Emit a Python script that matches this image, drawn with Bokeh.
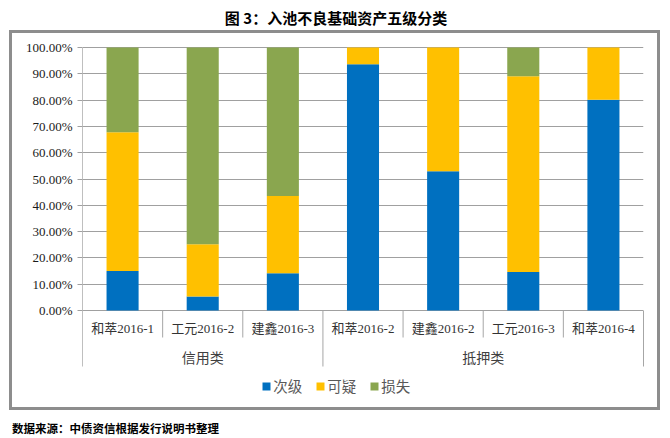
from bokeh.plotting import figure
from bokeh.layouts import column
from bokeh.models import (ColumnDataSource, FactorRange, Range1d, FixedTicker,
                          PrintfTickFormatter, LinearAxis, Legend, LegendItem, Label)
from bokeh.core.properties import value
from bokeh.embed import file_html
from bokeh.resources import INLINE

# ---------------- data ----------------
title_text = "图 3：入池不良基础资产五级分类"
source_text = "数据来源：中债资信根据发行说明书整理"
groups = ["信用类", "信用类", "信用类", "抵押类", "抵押类", "抵押类", "抵押类"]
categories = ["和萃2016-1", "工元2016-2", "建鑫2016-3", "和萃2016-2",
              "建鑫2016-2", "工元2016-3", "和萃2016-4"]
series_names = ["次级", "可疑", "损失"]
ciji = [15.0, 5.3, 14.2, 93.6, 52.9, 14.6, 80.1]
keyi = [52.8, 19.9, 29.3, 6.4, 47.1, 74.5, 19.9]
sunshi = [32.2, 74.8, 56.5, 0.0, 0.0, 10.9, 0.0]
y_ticks = [0, 10, 20, 30, 40, 50, 60, 70, 80, 90, 100]
colors = ["#0070C0", "#FFC000", "#8AA64F"]

# ---------------- layout constants (pixels) ----------------
W = 670
MAIN_H, NOTE_H = 410, 28
FRAME_LEFT, FRAME_RIGHT = 82, 643
ZERO_PX, FULL_PX = 310, 47          # pixel rows of 0% and 100%
UNIT = (ZERO_PX - FULL_PX) / 100.0  # px per percent
Y_TOP = 100 + FULL_PX / UNIT
Y_BOT = -(MAIN_H - ZERO_PX) / UNIT
SEP_BOT = -(366 - ZERO_PX) / UNIT
SHORT_SEP_Y = -(337 - ZERO_PX) / UNIT
CAT_LABEL_Y = -(327.5 - ZERO_PX) / UNIT
GROUP_LABEL_Y = -(356 - ZERO_PX) / UNIT
GRID_COLOR = "#a0a0a0"
SEP_COLOR = "#a6a6a6"
BOX_COLOR = "#8d8d8d"
CJK = "Noto Sans CJK SC"
SERIF = "'Liberation Serif', 'Noto Sans CJK SC'"

factors = list(zip(groups, categories))
x_range = FactorRange(factors=factors, factor_padding=0, group_padding=0,
                      subgroup_padding=0, range_padding=0)

g = "linear-gradient(%s,%s)" % (BOX_COLOR, BOX_COLOR)
box_css = ", ".join([
    g + " 9px 30px/651px 3px no-repeat",
    g + " 9px 407px/651px 3px no-repeat",
    g + " 9px 30px/3px 380px no-repeat",
    g + " 657px 30px/3px 380px no-repeat",
    "#ffffff",
])

p = figure(width=W, height=MAIN_H, x_range=x_range, y_range=Range1d(Y_BOT, Y_TOP),
           output_backend="svg", toolbar_location=None, x_axis_location=None,
           min_border_left=FRAME_LEFT, min_border_right=W - FRAME_RIGHT,
           min_border_top=0, min_border_bottom=0,
           styles={"background": box_css})
p.title.visible = False
p.outline_line_color = None
p.background_fill_color = None
p.border_fill_color = None

# bars
src = ColumnDataSource(data={"x": factors, "次级": ciji, "可疑": keyi, "损失": sunshi})
renderers = p.vbar_stack(series_names, x="x", width=0.4, fill_color=colors,
                         line_color=None, source=src)

# axes / grid
for gr in p.xgrid:
    gr.visible = False
yt = FixedTicker(ticks=y_ticks)
p.yaxis.ticker = yt
p.ygrid.ticker = yt
p.ygrid.grid_line_color = GRID_COLOR
p.yaxis.formatter = PrintfTickFormatter(format="%.2f%%")
p.yaxis.bounds = (SEP_BOT, 100)
p.yaxis.axis_line_color = "#bfbfbf"
p.yaxis.major_tick_line_color = "#a0a0a0"
p.yaxis.major_tick_out = 5
p.yaxis.major_tick_in = 0
p.yaxis.minor_tick_line_color = None
p.yaxis.major_label_standoff = 5
p.yaxis.major_label_text_font = "Liberation Serif"
p.yaxis.major_label_text_font_size = "13px"
p.yaxis.major_label_text_color = "#1a1a1a"

right_axis = LinearAxis(bounds=(SEP_BOT, 0), ticker=FixedTicker(ticks=[]),
                        axis_line_color=SEP_COLOR, major_tick_out=0,
                        major_label_text_font_size="0px")
p.add_layout(right_axis, "right")

# separators below the axis
sep_x, sep_y1 = [], []
for i in range(1, len(categories)):
    sep_x.append((groups[i], categories[i], -0.5))
    sep_y1.append(SEP_BOT if groups[i] != groups[i - 1] else SHORT_SEP_Y)
sep_src = ColumnDataSource(data={"x": sep_x, "y1": sep_y1})
p.segment(x0="x", y0=0, x1="x", y1="y1", source=sep_src,
          line_color=SEP_COLOR, line_width=1)

# category labels
cat_src = ColumnDataSource(data={"x": factors, "y": [CAT_LABEL_Y] * len(factors),
                                 "t": categories})
p.text(x="x", y="y", text="t", source=cat_src, text_align="center",
       text_baseline="middle", text_font=value(SERIF), text_font_size="13px",
       text_color="#333333")

uniq_groups = list(dict.fromkeys(groups))
grp_src = ColumnDataSource(data={"x": uniq_groups, "y": [GROUP_LABEL_Y] * len(uniq_groups),
                                 "t": uniq_groups})
p.text(x="x", y="y", text="t", source=grp_src, text_align="center",
       text_baseline="middle", text_font=value(CJK), text_font_size="14px",
       text_color="#404040")

# legend (inside the frame, under the category labels)
legend = Legend(items=[LegendItem(label=s, renderers=[r]) for s, r in zip(series_names, renderers)],
                orientation="horizontal", location=(261.3 - FRAME_LEFT, MAIN_H - 396),
                padding=0, margin=0, spacing=13, glyph_width=10, glyph_height=10,
                label_standoff=2, label_height=10,
                label_text_font=CJK, label_text_font_size="14.5px",
                label_text_color="#595959", border_line_color=None,
                background_fill_alpha=0)
p.add_layout(legend)

# chart title
p.add_layout(Label(x=335.5 - FRAME_LEFT, y=MAIN_H - 16.5, x_units="screen", y_units="screen",
                   text=title_text, text_align="center", text_baseline="middle",
                   text_font=CJK, text_font_style="bold", text_font_size="15px",
                   text_color="#000000"))

# source note figure (text held by its title panel, which is not clipped)
p2 = figure(width=W, height=NOTE_H, x_range=Range1d(0, 1), y_range=Range1d(0, 1),
            output_backend="svg", toolbar_location=None,
            x_axis_location=None, y_axis_location=None,
            min_border_left=FRAME_LEFT, min_border_right=W - FRAME_RIGHT,
            min_border_top=0, min_border_bottom=0,
            title=source_text, title_location="below")
p2.outline_line_color = None
p2.background_fill_color = None
p2.border_fill_color = None
p2.grid.visible = False
p2.title.align = "left"
p2.title.offset = 11.5 - FRAME_LEFT
p2.title.text_font = CJK
p2.title.text_font_style = "bold"
p2.title.text_font_size = "11.5px"
p2.title.text_color = "#000000"
p2.title.standoff = 4
p2.title.vertical_align = "middle"

page = column(p, p2, spacing=0)
open("out.html", "w").write(file_html(page, INLINE))
